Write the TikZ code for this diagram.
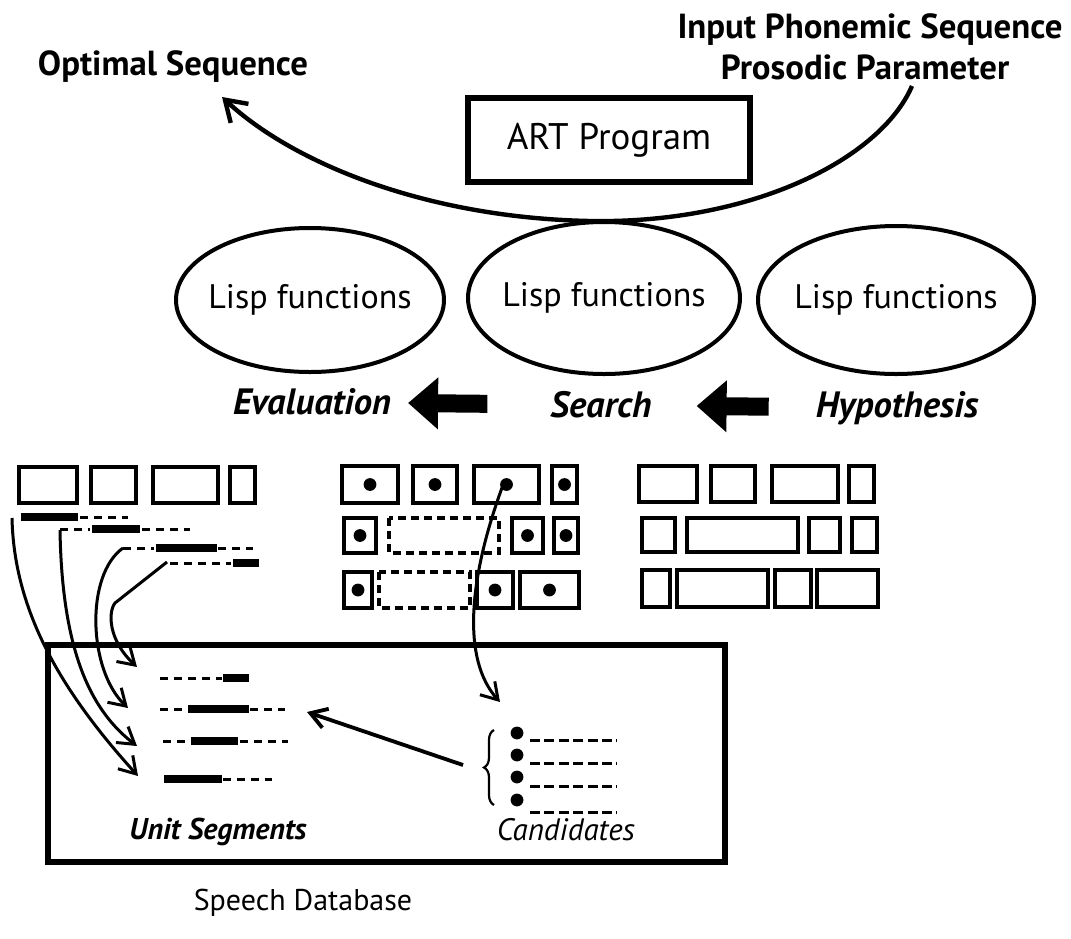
\documentclass[tikz,border=0pt]{standalone}
\usepackage{fontspec}
\setmainfont{PT Sans}
\usetikzlibrary{arrows.meta,positioning,shapes.geometric,decorations.pathreplacing}

\begin{document}
\begin{tikzpicture}[x=0.5pt,y=-0.5pt,
  lbl/.style={font=\fontsize{16}{19}\selectfont},
  head/.style={font=\fontsize{17.4}{20}\selectfont\bfseries},
  stage/.style={font=\fontsize{18.3}{21}\selectfont\bfseries\itshape},
  note/.style={font=\fontsize{15.5}{18}\selectfont\itshape},
  oval/.style={line width=2pt},
  cell/.style={line width=2pt},
  emptycell/.style={line width=1.6pt,dash pattern=on 4pt off 2.5pt},
  bar/.style={line width=3.8pt},
  segdash/.style={line width=1.5pt,dash pattern=on 4pt off 3pt},
  link/.style={line width=1.5pt,-{Straight Barb[length=8pt,width=10pt]}},
  fat/.style={line width=9pt,-{Triangle[length=15pt,width=25pt]}}]
\fill[white] (0,0) rectangle (1071,938);
\useasboundingbox (0,0) rectangle (1071,938);

\node[head] (inseq) at (870,30) {Input Phonemic Sequence};
\node[head] (pros) at (865,67) {Prosodic Parameter};
\node[head] (opt) at (173,67) {Optimal Sequence};
\node[lbl,font=\fontsize{18.5}{22}\selectfont,draw,line width=2.6pt,minimum width=141pt,minimum height=42pt] (art) at (609,140) {ART Program};

\coordinate (pin) at (912,86);
\coordinate (pout) at (222,97);
\draw[line width=2.2pt,-{Straight Barb[length=10pt,width=13pt]}] (pin) .. controls (880,160) and (750,224) .. (590,221)
  .. controls (430,218) and (295,165) .. (pout);

\node[lbl,font=\fontsize{17}{20}\selectfont] (evalfn) at (310,300) {Lisp functions};
\node[lbl,font=\fontsize{17}{20}\selectfont] (searchfn) at (604,298) {Lisp functions};
\node[lbl,font=\fontsize{17}{20}\selectfont] (hypfn) at (896,300) {Lisp functions};
\draw[oval] (evalfn) ellipse [x radius=67pt, y radius=36pt];
\draw[oval] (searchfn) ellipse [x radius=68pt, y radius=38pt];
\draw[oval] (hypfn) ellipse [x radius=69pt, y radius=37pt];

\node[stage] (eval) at (312,402) {Evaluation};
\node[stage] (search) at (601,405) {Search};
\node[stage] (hyp) at (897,408) {Hypothesis};
\draw[fat,shorten <=28pt,shorten >=5pt] (search) -- (eval);
\draw[fat,shorten <=20pt,shorten >=19pt] (hyp) -- (search);

\foreach \a/\b in {19/77,91/136,153/218,230/255}
  \draw[cell] (\a,467) rectangle (\b,503);
\draw[bar] (21,517) -- (78,517); \draw[segdash] (80,517) -- (128,517);
\draw[segdash] (60,529) -- (90,529); \draw[bar] (92,529) -- (140,529); \draw[segdash] (142,529) -- (190,529);
\draw[segdash] (123,548) -- (154,548); \draw[bar] (156,548) -- (217,548); \draw[segdash] (218,548) -- (253,548);
\draw[segdash] (170,563) -- (231,563); \draw[bar] (233,563) -- (259,563);

\foreach \a/\b/\c/\d in {342/466/398/503,413/466/457/503,474/466/539/503,552/466/577/503,
    344/518/376/553,512/518/543/553,554/518/578/553,
    344/572/372/608,477/572/513/608,520/572/579/608}{
  \draw[cell] (\a,\b) rectangle (\c,\d);
  \fill ({(\a+\c)/2},{(\b+\d)/2}) circle (3.2pt);
}
\draw[emptycell] (389,518) rectangle (499,553);
\draw[emptycell] (379,572) rectangle (470,608);

\foreach \a/\b/\c/\d in {639/466/697/502,711/466/755/502,772/466/838/502,849/466/874/502,
    642/518/675/552,687/518/798/552,809/518/840/552,852/518/877/552,
    642/570/670/607,677/570/768/607,775/570/811/607,817/570/878/607}
  \draw[cell] (\a,\b) rectangle (\c,\d);

\draw[line width=2.8pt] (48,645) rectangle (725,862);
\node[lbl,font=\fontsize{15}{18}\selectfont] (db) at (303,903) {Speech Database};

\draw[segdash] (160,678) -- (222,678); \draw[bar] (223,678) -- (249,678);
\draw[segdash] (160,709) -- (187,709); \draw[bar] (188,709) -- (249,709); \draw[segdash] (250,709) -- (285,709);
\draw[segdash] (163,741) -- (189,741); \draw[bar] (191,741) -- (238,741); \draw[segdash] (240,741) -- (288,741);
\draw[bar] (164,779) -- (222,779); \draw[segdash] (223,779) -- (272,779);
\node[note,font=\fontsize{15}{18}\selectfont\bfseries\itshape] (units) at (218,832) {Unit Segments};

\draw[line width=1.1pt,decorate,decoration={brace,amplitude=5pt}] (494,805) -- (494,730);
\foreach \y in {733,755,777,800}
  \fill (517,\y) circle (3.2pt);
\foreach \y in {740,763,786,812}
  \draw[line width=1.5pt,dash pattern=on 5pt off 2.2pt] (530,\y) -- (617,\y);
\node[note] (cands) at (566,830) {Candidates};

\coordinate (b1) at (12,518);
\coordinate (b2) at (60,530);
\coordinate (b3) at (123,548);
\coordinate (b4) at (167,562);
\coordinate (u1) at (137,667);
\coordinate (u2) at (128,708);
\coordinate (u3) at (137,746);
\coordinate (u4) at (138,776);
\draw[link] (b1) .. controls (14,610) and (60,690) .. (u4);
\draw[link] (b2) .. controls (62,650) and (90,710) .. (u3);
\draw[link] (b3) .. controls (85,575) and (88,670) .. (u2);
\draw[link] (b4) -- (115,603) .. controls (108,612) and (108,640) .. (u1);

\coordinate (pick) at (503,485);
\coordinate (drop) at (500,702);
\draw[link] (pick) .. controls (468,580) and (462,660) .. (drop);

\coordinate (cand) at (463,765);
\coordinate (useg) at (307,712);
\draw[link,line width=1.9pt] (cand) -- (useg);
\end{tikzpicture}
\end{document}
